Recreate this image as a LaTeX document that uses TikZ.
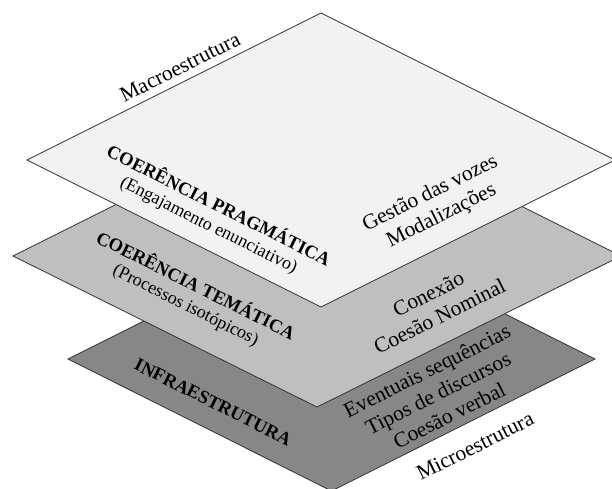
\documentclass[tikz,border=0pt]{standalone}
\usepackage{fontspec}
\setmainfont{Liberation Serif}
\definecolor{topc}{HTML}{F2F2F2}
\definecolor{midc}{HTML}{BFBFBF}
\definecolor{botc}{HTML}{878787}
\definecolor{edgec}{HTML}{333333}
\begin{document}
\begin{tikzpicture}[x=1pt,y=-1pt,
  plane/.style={draw=edgec, line width=0.8pt, line join=miter},
  lefttxt/.style={inner sep=0pt, align=center, rotate=-26.565, font=\fontsize{18}{21}\selectfont},
  boldtxt/.style={font=\fontsize{18.5}{21}\selectfont\bfseries},
  righttxt/.style={inner sep=0pt, align=center, rotate=26.565, font=\fontsize{21.5}{25}\selectfont},
  edgetxt/.style={inner sep=0pt, rotate=26.565, font=\fontsize{21.5}{25}\selectfont}]
\useasboundingbox (0,0) rectangle (612,488);
\clip (0,0) rectangle (612,488);
\fill[white] (0,0) rectangle (612,488);
% bottom plane
\coordinate (bT) at (331.5,227);
\coordinate (bR) at (595,359);
\coordinate (bB) at (331.5,491);
\coordinate (bL) at (68,359);
% middle plane
\coordinate (mT) at (317,104);
\coordinate (mR) at (621,256);
\coordinate (mB) at (317,407);
\coordinate (mL) at (13,256);
% top plane
\coordinate (tT) at (321,13);
\coordinate (tR) at (615,160);
\coordinate (tB) at (321,307);
\coordinate (tL) at (27,160);
\draw[plane, fill=botc] (bT) -- (bR) -- (bB) -- (bL) -- cycle;
\draw[plane, fill=midc] (mT) -- (mR) -- (mB) -- (mL) -- cycle;
\draw[plane, fill=topc] (tT) -- (tR) -- (tB) -- (tL) -- cycle;
% labels
\node[edgetxt] (macro) at (180,67) {Macroestrutura};
\node[edgetxt] (micro) at (475,446) {Microestrutura};
\node[lefttxt] (prag) at (214,215) {{\fontsize{18.5}{21}\selectfont\bfseries COERÊNCIA PRAGMÁTICA}\\(Engajamento enunciativo)};
\node[lefttxt] (tema) at (191,295) {{\fontsize{18.5}{21}\selectfont\bfseries COERÊNCIA TEMÁTICA}\\(Processos isotópicos)};
\node[lefttxt, boldtxt] (infra) at (213,402) {INFRAESTRUTURA};
\node[righttxt] (gest) at (436,205) {Gestão das vozes\\Modalizações};
\node[righttxt] (conex) at (434,305) {Conexão\\Coesão Nominal};
\node[righttxt] (event) at (438,393) {Eventuais sequências\\Tipos de discursos\\Coesão verbal};
\end{tikzpicture}
\end{document}
